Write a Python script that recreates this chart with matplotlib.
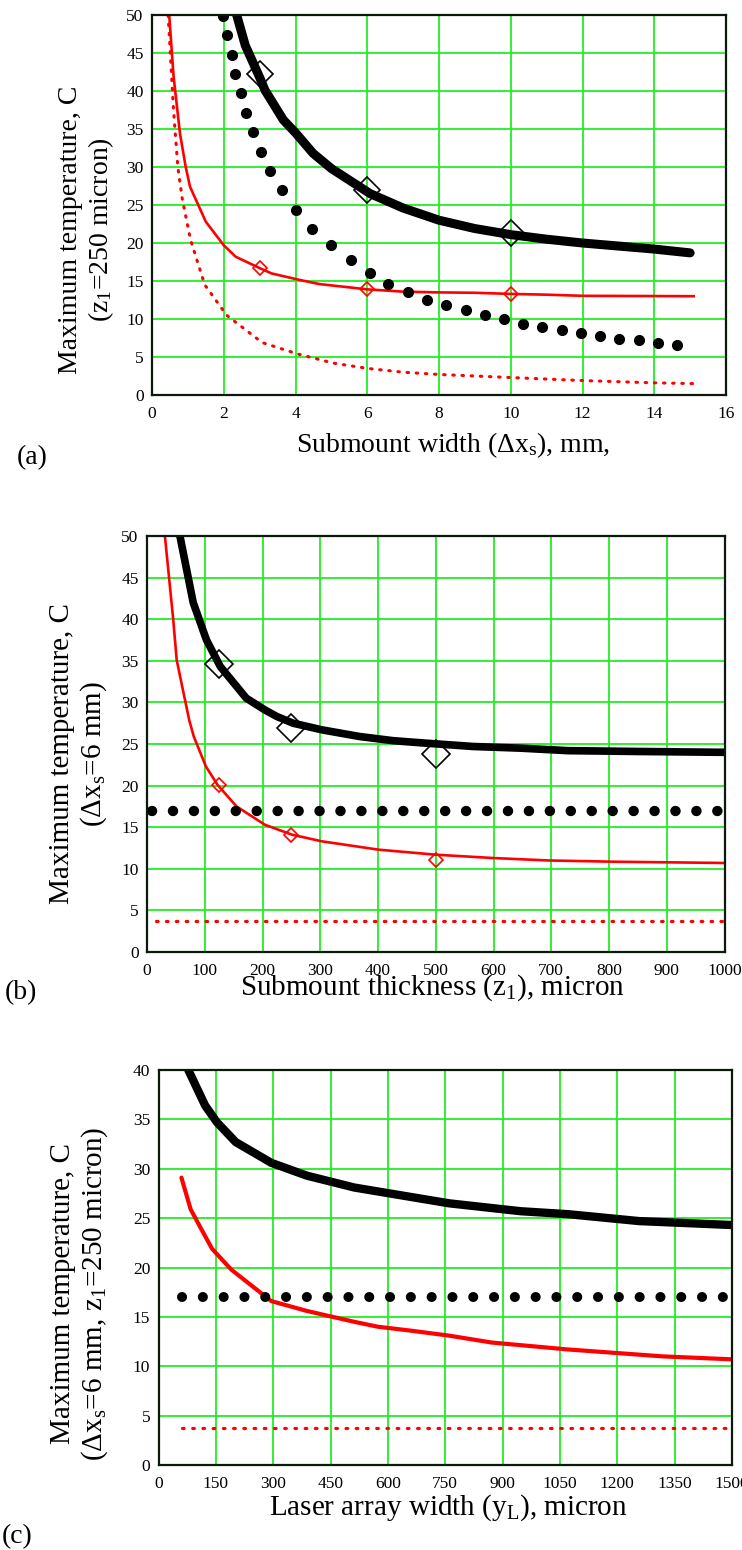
import numpy as np
import matplotlib
matplotlib.use("Agg")
import matplotlib.pyplot as plt

plt.rcParams['font.family'] = ['Liberation Serif', 'DejaVu Serif']
plt.rcParams['mathtext.fontset'] = 'custom'
plt.rcParams['mathtext.rm'] = 'Liberation Serif'
plt.rcParams['mathtext.it'] = 'Liberation Serif:italic'

# ---------------- (a) largura do submount ----------------
a_black_x = [2.36, 2.6, 3.0, 3.15, 3.66, 4.0, 4.49, 5.0, 6.08, 7.0, 8.0, 9.0, 10.0, 11.0, 12.0, 13.0, 14.0, 15.0]
a_black_y = [50, 46, 41.8, 40.1, 36.2, 34.5, 31.8, 29.8, 26.5, 24.6, 23.0, 21.9, 21.1, 20.5, 20.0, 19.6, 19.2, 18.7]
a_red_x = [0.48, 0.6, 0.78, 0.94, 1.06, 1.5, 2.0, 2.33, 3.0, 3.33, 4.06, 4.66, 6.0, 7.0, 8.0, 9.0, 10.0, 11.0, 12.0, 15.1]
a_red_y = [50, 42, 34.4, 30.0, 27.4, 22.8, 19.7, 18.2, 16.7, 16.0, 15.2, 14.6, 13.9, 13.6, 13.5, 13.45, 13.3, 13.2, 13.05, 13.0]
a_dots_x = [1.97, 2.10, 2.22, 2.30, 2.47, 2.62, 2.81, 3.05, 3.29, 3.62, 4.02, 4.47, 5.00, 5.55, 6.07, 6.59,
            7.13, 7.67, 8.20, 8.74, 9.27, 9.81, 10.35, 10.88, 11.42, 11.95, 12.49, 13.03, 13.57, 14.10, 14.64]
a_dots_y = [49.9, 47.4, 44.8, 42.2, 39.7, 37.1, 34.6, 32.0, 29.5, 27.0, 24.4, 21.9, 19.7, 17.8, 16.0, 14.6,
            13.5, 12.5, 11.9, 11.2, 10.5, 10.0, 9.3, 8.95, 8.55, 8.15, 7.8, 7.4, 7.2, 6.8, 6.6]
a_reddot_x = [0.45, 0.6, 0.72, 0.84, 1.07, 1.47, 2.08, 3.07, 4.06, 5.05, 6.0, 7.0, 8.0, 9.0, 10.0, 11.0, 12.0, 13.0, 14.0, 15.1]
a_reddot_y = [50, 37.5, 30, 25.9, 20.5, 14.5, 10.5, 6.9, 5.4, 4.2, 3.5, 3.0, 2.7, 2.5, 2.3, 2.1, 1.9, 1.75, 1.6, 1.5]
a_diam_x = [3, 6, 10]
a_diam_black = [42.2, 27.0, 21.3]
a_diam_red = [16.7, 14.0, 13.3]

# ---------------- (b) espessura do submount ----------------
b_black_x = [57, 80, 103, 127, 172, 204, 225, 253, 303, 368, 426, 483, 565, 647, 729, 852, 1000]
b_black_y = [50, 42, 37.5, 34.3, 30.5, 29.1, 28.3, 27.5, 26.7, 25.9, 25.4, 25.1, 24.7, 24.5, 24.2, 24.1, 24.0]
b_red_x = [31, 45.5, 51.4, 73, 81, 102, 122, 155, 204, 251, 303, 401, 499, 598, 696, 811, 1000]
b_red_y = [50, 39.9, 35.1, 27.9, 25.9, 22.3, 20.1, 17.5, 15.3, 14.1, 13.3, 12.3, 11.7, 11.3, 11.0, 10.85, 10.7]
b_dots_x = [9, 1000]
b_dots_y = [17, 17]
b_reddot_x = [16, 1000]
b_reddot_y = [3.75, 3.75]
b_diam_x = [125, 250, 500]
b_diam_black = [34.6, 26.9, 23.8]
b_diam_red = [20.1, 14.1, 11.1]

# ---------------- (c) largura do array de lasers ----------------
c_black_x = [78, 122, 153, 202, 295, 388, 512, 636, 760, 947, 1071, 1257, 1500]
c_black_y = [40, 36.4, 34.7, 32.7, 30.6, 29.3, 28.1, 27.3, 26.5, 25.7, 25.4, 24.7, 24.3]
c_red_x = [60, 84, 109, 140, 190, 239, 295, 388, 512, 574, 661, 760, 872, 1071, 1319, 1500]
c_red_y = [29.1, 25.9, 24.1, 21.9, 19.8, 18.3, 16.6, 15.6, 14.5, 14.0, 13.6, 13.1, 12.4, 11.7, 11.0, 10.7]
c_dots_x = [62, 1500]
c_dots_y = [17, 17]
c_reddot_x = [62, 1500]
c_reddot_y = [3.7, 3.7]

W, H = 742, 1550
GREEN = '#22ee22'


def px(x, y):
    """Converte pixels da imagem em fracao da figura."""
    return x / W, 1 - y / H


def make_axes(fig, left, top, right, bottom, xmax, xstep, ymax):
    ax = fig.add_axes([left / W, 1 - bottom / H, (right - left) / W, (bottom - top) / H])
    ax.set_xlim(0, xmax)
    ax.set_ylim(0, ymax)
    ax.set_xticks(np.arange(0, xmax + 1, xstep))
    ax.set_yticks(np.arange(0, ymax + 1, 5))
    ax.grid(True, color=GREEN, lw=1.3)
    ax.set_axisbelow(True)
    ax.tick_params(axis='both', length=0, labelsize=12.5)
    ax.tick_params(axis='x', pad=8)
    ax.tick_params(axis='y', pad=6)
    for s in ax.spines.values():
        s.set_color('#0a1a0a')
        s.set_linewidth(1.6)
    return ax


fig = plt.figure(figsize=(W / 100, H / 100), dpi=100)

# ----- (a) -----
ax = make_axes(fig, 152, 15, 726, 395, 16, 2, 50)
ax.plot(a_reddot_x, a_reddot_y, color='red', lw=2.2, ls=(0, (0.5, 2.5)), dash_capstyle='round')
ax.plot(a_red_x, a_red_y, color='red', lw=1.9)
ax.plot(a_dots_x, a_dots_y, 'o', color='black', ms=7, ls='none')
ax.plot(a_black_x, a_black_y, color='black', lw=6.5, solid_capstyle='round')
ax.plot(a_diam_x, a_diam_black, 'D', mfc='none', mec='black', ms=13.5, mew=1.2, ls='none')
ax.plot(a_diam_x, a_diam_red, 'D', mfc='none', mec='red', ms=7.5, mew=1.2, ls='none')
fig.text(*px(87, 230), 'Maximum temperature, C\n(z$_\\mathrm{1}$=250 micron)', rotation=90,
         ha='center', va='center', multialignment='center', fontsize=20, linespacing=1.15)
fig.text(*px(453, 445), 'Submount width ($\\Delta$x$_\\mathrm{s}$), mm,', ha='center', va='center', fontsize=20)
fig.text(*px(32, 458), '(a)', ha='center', va='center', fontsize=20)

# ----- (b) -----
ax = make_axes(fig, 147, 536, 724.5, 952, 1000, 100, 50)
ax.plot(b_reddot_x, b_reddot_y, color='red', lw=2.3, ls=(0, (0.5, 2.6)), dash_capstyle='round')
ax.plot(b_red_x, b_red_y, color='red', lw=1.9)
ax.plot(b_dots_x, b_dots_y, color='black', lw=7.5, ls=(0, (0.01, 2.0)), dash_capstyle='round')
ax.plot(b_black_x, b_black_y, color='black', lw=5.5, solid_capstyle='round')
ax.plot(b_diam_x, b_diam_black, 'D', mfc='none', mec='black', ms=14.5, mew=1.2, ls='none')
ax.plot(b_diam_x, b_diam_red, 'D', mfc='none', mec='red', ms=7.5, mew=1.2, ls='none')
fig.text(*px(79, 754), 'Maximum temperature, C\n($\\Delta$x$_\\mathrm{s}$=6 mm)', rotation=90,
         ha='center', va='center', multialignment='center', fontsize=21, linespacing=1.15)
fig.text(*px(432, 988), 'Submount thickness (z$_\\mathrm{1}$), micron', ha='center', va='center', fontsize=21)
fig.text(*px(21, 993), '(b)', ha='center', va='center', fontsize=20)

# ----- (c) -----
ax = make_axes(fig, 158.5, 1070, 732, 1465, 1500, 150, 40)
ax.plot(c_reddot_x, c_reddot_y, color='red', lw=2.3, ls=(0, (0.5, 2.7)), dash_capstyle='round')
ax.plot(c_red_x, c_red_y, color='red', lw=3.0, solid_capstyle='round')
ax.plot(c_dots_x, c_dots_y, color='black', lw=7.2, ls=(0, (0.01, 2.07)), dash_capstyle='round')
ax.plot(c_black_x, c_black_y, color='black', lw=6.0, solid_capstyle='round')
fig.text(*px(80, 1294), 'Maximum temperature, C\n($\\Delta$x$_\\mathrm{s}$=6 mm, z$_\\mathrm{1}$=250 micron)',
         rotation=90, ha='center', va='center', multialignment='center', fontsize=21, linespacing=1.15)
fig.text(*px(448, 1508), 'Laser array width (y$_\\mathrm{L}$), micron', ha='center', va='center', fontsize=21)
fig.text(*px(17, 1537), '(c)', ha='center', va='center', fontsize=20)

fig.savefig('out.png', dpi=100)
